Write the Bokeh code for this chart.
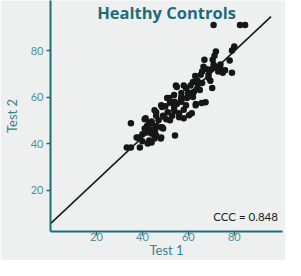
from bokeh.plotting import figure
from bokeh.models import Range1d, Label, FixedTicker
from bokeh.embed import file_html
from bokeh.resources import INLINE

# ---- data ----
test1 = [71, 82.5, 84.7, 80, 79, 72, 71.4, 70.6, 67, 78, 66.6, 71, 74, 79, 75, 73, 76,
         65.4, 63, 68.8, 68.8, 69.6, 66, 63.7, 62, 61, 54.6, 58, 55, 59, 70.4,
         62.4, 57, 60, 53.8, 50.8, 51.7, 56.8, 59.4, 57, 67.5, 65.8, 63.3, 63.2, 59,
         48.2, 53.8, 48.6, 55, 52, 46, 45.3, 51, 56, 61.5, 54, 58, 49, 58, 60.3, 56, 53,
         41, 41.4, 50.4, 47, 44, 35, 44, 48, 48.6, 46, 42, 43, 41, 42.3, 49, 44, 45.5,
         41.8, 44, 44.4, 43, 38, 37.5, 48, 48.2, 54.2, 45.3, 43, 42.3, 44, 38.9, 33.2,
         35, 46, 40, 64, 66, 60, 62, 57, 50, 54, 64, 68, 70, 72, 74, 65, 52, 46, 40]
test2 = [91, 91, 91, 81.7, 80, 79.6, 77.8, 76, 76, 75.7, 73, 74, 72, 70.4, 70.4, 71, 71.5,
         69.6, 69, 69.6, 68.3, 67, 71, 66.5, 66.5, 65, 65, 65, 64.3, 63.9, 63.9,
         62.2, 61.7, 62, 60.9, 59.6, 59.6, 59, 59.6, 60, 57.8, 57.4, 57, 56.5, 56.5,
         56.5, 55.7, 55.7, 57, 57.5, 53.5, 54.3, 53.5, 53, 53, 54, 54.5, 52, 50.9, 52.2, 51.3, 52,
         50.4, 50.9, 50.4, 50, 49.5, 48.7, 48.7, 47, 47, 47.5, 47.5, 49, 46.5, 46.5, 46.5, 46, 45.5,
         44.8, 44.3, 44.3, 45, 42.6, 42.6, 42.2, 42.6, 43.5, 42.2, 41.3, 40, 40.5, 38.3, 38.3,
         38.3, 43.5, 41, 64, 66, 61, 60, 58, 56, 58, 67, 72, 72, 73, 74, 63, 50, 52, 44]

fit_intercept = 5.6
fit_slope = 0.927
fit_x = [0, 96]
fit_y = [fit_intercept + fit_slope * v for v in fit_x]

x_ticks = [20, 40, 60, 80]
y_ticks = [20, 40, 60, 80]
title_text = "Healthy Controls"
ccc_text = "CCC = 0.848"
x_label = "Test 1"
y_label = "Test 2"

BG = "#eef0f0"
TEAL = "#1f6c79"
TICK_TEAL = "#4f8e9a"
LABEL_TEAL = "#3a808d"

p = figure(width=285, height=260, output_backend="svg", toolbar_location=None,
           x_range=Range1d(0, 101), y_range=Range1d(2.2, 101.5),
           background_fill_color=BG, border_fill_color=BG,
           min_border_left=47, min_border_right=3, min_border_top=0, min_border_bottom=0)
p.outline_line_color = None
p.grid.visible = False

for ax in (p.xaxis[0], p.yaxis[0]):
    ax.axis_line_color = TEAL
    ax.axis_line_width = 2
    ax.major_tick_line_color = TEAL
    ax.major_tick_line_width = 1.5
    ax.major_tick_out = 4
    ax.major_tick_in = 0
    ax.minor_tick_line_color = None
    ax.major_label_text_color = TICK_TEAL
    ax.major_label_text_font = "Lato"
    ax.major_label_text_font_size = "11px"
    ax.axis_label_text_color = LABEL_TEAL
    ax.axis_label_text_font = "Lato"
    ax.axis_label_text_font_style = "normal"
    ax.axis_label_text_font_size = "13px"

p.xaxis.ticker = FixedTicker(ticks=x_ticks)
p.yaxis.ticker = FixedTicker(ticks=y_ticks)
p.xaxis.axis_label = x_label
p.yaxis.axis_label = y_label
p.xaxis.major_label_standoff = -3
p.yaxis.major_label_standoff = 3
p.xaxis.axis_label_standoff = -2
p.yaxis.axis_label_standoff = 8

p.line(fit_x, fit_y, line_color="#1a1a1a", line_width=1.6)
p.scatter(test1, test2, size=6.5, fill_color="#161616", line_color=None)

p.add_layout(Label(x=50.5, y=101.5, text=title_text, text_align="center",
                   text_baseline="top", text_font="Open Sans", text_font_style="bold",
                   text_font_size="16.5px", text_color=TEAL, y_offset=0))
p.add_layout(Label(x=99, y=6, text=ccc_text, text_align="right",
                   text_baseline="bottom", text_font="Lato",
                   text_font_size="11.5px", text_color="#1a1a1a"))

open("out.html", "w").write(file_html(p, INLINE))
